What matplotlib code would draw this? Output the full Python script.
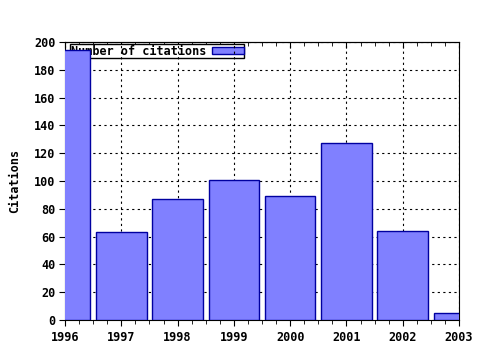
import matplotlib
matplotlib.use("Agg")
import matplotlib.pyplot as plt
from matplotlib.ticker import MultipleLocator

years = [1996, 1997, 1998, 1999, 2000, 2001, 2002, 2003]
citations = [194, 63, 87, 101, 89, 127, 64, 5]

plt.rcParams['font.family'] = ['DejaVu Sans Mono']
plt.rcParams['font.weight'] = 'bold'
plt.rcParams['font.size'] = 8.5

fig = plt.figure(figsize=(4.8, 3.5), dpi=100)
ax = fig.add_axes([65/480, 1-320/350, (459-65)/480, (320-42)/350])

ax.bar(years, citations, width=0.9, color='#8080ff', edgecolor='#0000a0',
       linewidth=1, label='Number of citations', zorder=10)

ax.set_xlim(1996, 2003)
ax.set_ylim(0, 200)
ax.set_xticks(years)
ax.set_yticks(range(0, 201, 20))
ax.xaxis.set_minor_locator(MultipleLocator(0.25))
ax.grid(True, which='major', color='black', linestyle=(0, (2, 3)), linewidth=0.8, zorder=0)
ax.tick_params(axis='x', which='both', direction='out', top=False, bottom=True, labelsize=8.5, pad=4)
ax.tick_params(axis='y', direction='out', left=True, right=False, labelsize=8.5, pad=3)
ax.tick_params(which='major', length=4)
ax.tick_params(which='minor', length=3)
ax.set_ylabel('Citations', fontsize=8.5, fontweight='bold', labelpad=9)

# mirrored ticks on the top edge, pointing inward
top = ax.secondary_xaxis('top')
top.set_xticks(years)
top.xaxis.set_minor_locator(MultipleLocator(0.25))
top.tick_params(which='both', direction='in', labeltop=False)
top.tick_params(which='major', length=4)
top.tick_params(which='minor', length=3)

leg = ax.legend(loc='upper left', bbox_to_anchor=(5/394, 276/278), frameon=True,
                fancybox=False, edgecolor='black', borderpad=0.05, handlelength=2.7,
                handleheight=0.5, handletextpad=0.5, markerfirst=False,
                borderaxespad=0, framealpha=1)
leg.get_frame().set_linewidth(1)
leg.set_zorder(1)

fig.savefig('out.png', dpi=100)
